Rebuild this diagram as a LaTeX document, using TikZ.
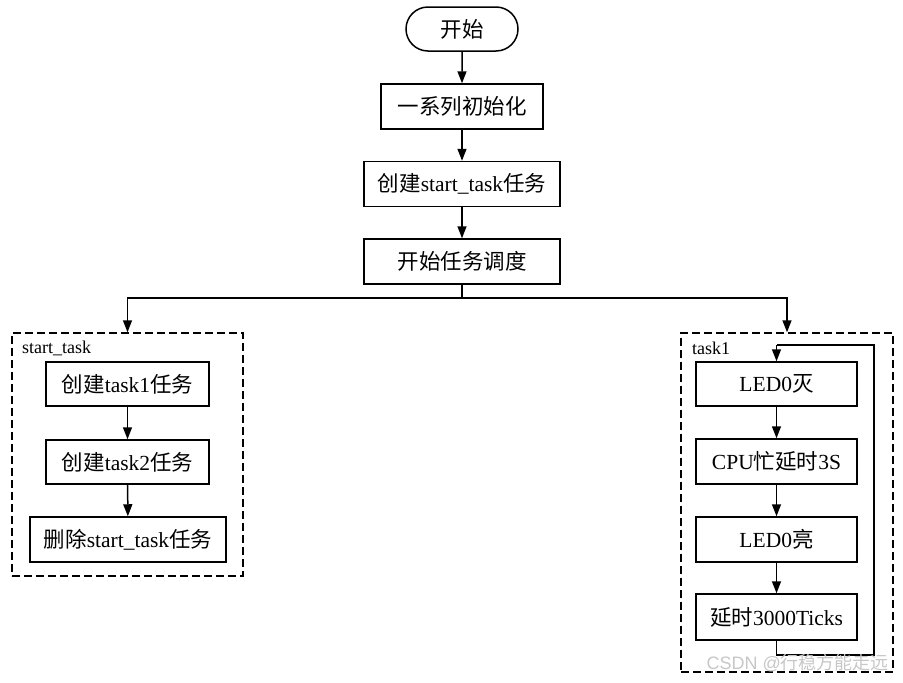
\documentclass[tikz,border=0pt]{standalone}
\usepackage{fontspec}
\setmainfont{Liberation Serif}
\setsansfont{Liberation Sans}
\newfontfamily\cjk{Noto Sans CJK SC}
\usetikzlibrary{shapes.misc,arrows.meta}
\newcommand{\C}[1]{{\cjk #1}}
\tikzset{
  box/.style={draw, line width=1.5pt, rectangle, minimum height=45pt, inner sep=0pt, font=\fontsize{21.5}{24}\selectfont},
  term/.style={draw, line width=1.5pt, rounded rectangle, minimum width=112pt, minimum height=44pt, inner sep=0pt, font=\fontsize{21.5}{24}\selectfont},
  frame/.style={draw, line width=1.5pt, dash pattern=on 8pt off 4pt},
  lbl/.style={anchor=west, inner sep=0pt, font=\fontsize{18}{20}\selectfont},
  arr/.style={line width=1.5pt, -{Triangle[length=12pt,width=9pt]}},
  ln/.style={line width=1.5pt}
}
\begin{document}
\begin{tikzpicture}[x=1pt,y=-1pt]
\useasboundingbox (0,0) rectangle (903,683);
% main column
\node[term] (start) at (462,29) {\C{开始}};
\node[box, minimum width=162pt] (init) at (462,106.5) {\C{一系列初始化}};
\node[box, minimum width=196pt] (cst) at (462,184) {\C{创建}start\_task\C{任务}};
\node[box, minimum width=196pt] (sched) at (462,261.5) {\C{开始任务调度}};
\draw[arr] (start) -- (init);
\draw[arr] (init) -- (cst);
\draw[arr] (cst) -- (sched);
% frames
\node[frame, minimum width=231pt, minimum height=243pt, inner sep=0pt] (lf) at (127.5,454.5) {};
\node[frame, minimum width=212pt, minimum height=339pt, inner sep=0pt] (rf) at (787,502.5) {};
\node[lbl] (lfl) at (22,348) {start\_task};
\node[lbl] (rfl) at (692,348) {task1};
% branch
\coordinate (br) at (462,298);
\draw[ln] (sched.south) -- (br);
\draw[arr] (br) -| (lf.north);
\draw[arr] (br) -| (rf.north);
% left tasks
\node[box, minimum width=163pt, minimum height=44pt] (t1) at (127.5,384) {\C{创建}task1\C{任务}};
\node[box, minimum width=163pt, minimum height=44pt] (t2) at (127.5,462) {\C{创建}task2\C{任务}};
\node[box, minimum width=196pt] (del) at (128,539.5) {\C{删除}start\_task\C{任务}};
\draw[arr] (t1) -- (t2);
\draw[arr] (t2) -- (del);
% right tasks
\node[box, minimum width=161pt, minimum height=44pt] (r1) at (776.5,384) {LED0\C{灭}};
\node[box, minimum width=161pt] (r2) at (776.5,461.5) {CPU\C{忙延时}3S};
\node[box, minimum width=161pt] (r3) at (776.5,539.5) {LED0\C{亮}};
\node[box, minimum width=161pt, minimum height=46pt] (r4) at (776.5,617) {\C{延时}3000Ticks};
\draw[arr] (r1) -- (r2);
\draw[arr] (r2) -- (r3);
\draw[arr] (r3) -- (r4);
\coordinate (lb) at (776.5,655);
\coordinate (lr) at (874,655);
\coordinate (tr) at (874,345);
\coordinate (tl) at (776.5,345);
\draw[ln] (r4.south) -- (lb) -- (lr) -- (tr) -- (tl);
\draw[arr] (tl) -- (r1.north);
% watermark
\node[anchor=east, inner sep=0pt, text=black!22, font=\sffamily\fontsize{18}{20}\selectfont] (wm) at (889,663) {CSDN @\C{行稳方能走远}};
\end{tikzpicture}
\end{document}
